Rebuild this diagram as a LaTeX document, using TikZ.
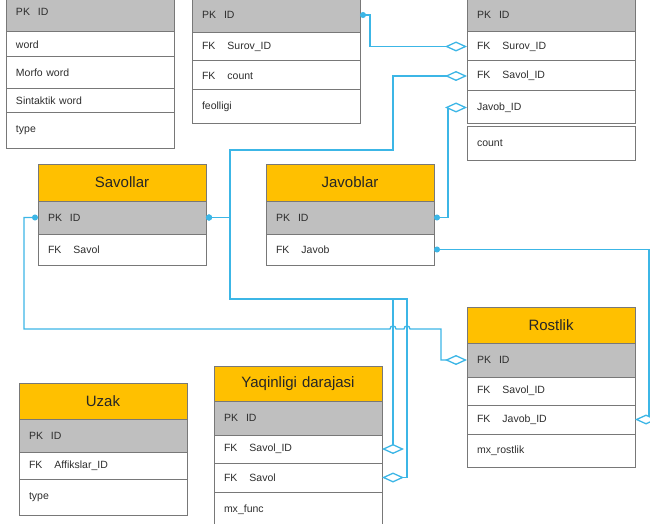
\documentclass[tikz,border=0pt]{standalone}
\usepackage{fontspec}
\setmainfont{Liberation Sans}
\usetikzlibrary{arrows.meta}
\definecolor{hdrorange}{RGB}{255,192,0}
\definecolor{pkgray}{RGB}{191,191,191}
\definecolor{edgegray}{RGB}{120,120,120}
\definecolor{linkblue}{RGB}{60,182,230}
\definecolor{txtgray}{RGB}{45,45,45}

\begin{document}
\begin{tikzpicture}[x=1pt, y=-1pt,
  tbl/.style={draw=edgegray, line width=1pt, anchor=north west, outer sep=0pt,
    inner xsep=10pt, inner ysep=0pt, text width=148pt, align=left, text=txtgray,
    font=\fontsize{10.5}{12}\selectfont},
  hdr/.style={tbl, fill=hdrorange, align=center, text=black!85,
    font=\fontsize{15}{18}\selectfont},
  pk/.style={tbl, fill=pkgray},
  link/.style={draw=linkblue, line width=1.3pt,
    {Circle[length=6pt]}-{Diamond[open,fill=white,length=22pt,width=10pt]}}]
  \useasboundingbox (0,0) rectangle (650,524);
  \clip (0,0) rectangle (650,524);

  \node[pk, minimum height=40pt] (sozid) at (6,-8) {PK\hspace{8pt}ID};
  \node[tbl, minimum height=25pt] (sozword) at (sozid.south west) {word};
  \node[tbl, minimum height=32pt] (sozmorfo) at (sozword.south west) {Morfo word};
  \node[tbl, minimum height=24pt] (sozsint) at (sozmorfo.south west) {Sintaktik word};
  \node[tbl, minimum height=35pt] (soztype) at (sozsint.south west) {type};

  \node[pk, minimum height=36pt] (feolid) at (192,-3) {PK\hspace{8pt}ID};
  \node[tbl, minimum height=28pt] (feolsurov) at (feolid.south west) {FK\hspace{12pt}Surov\_ID};
  \node[tbl, minimum height=29pt] (feolcount) at (feolsurov.south west) {FK\hspace{12pt}count};
  \node[tbl, minimum height=34pt] (feolf) at (feolcount.south west) {feolligi};

  \node[pk, minimum height=35pt] (sjid) at (467,-3) {PK\hspace{8pt}ID};
  \node[tbl, minimum height=29pt] (sjsurov) at (sjid.south west) {FK\hspace{12pt}Surov\_ID};
  \node[tbl, minimum height=30pt] (sjsavol) at (sjsurov.south west) {FK\hspace{12pt}Savol\_ID};
  \node[tbl, minimum height=33pt] (sjjavob) at (sjsavol.south west) {Javob\_ID};
  \node[tbl, minimum height=33pt] (sjcount) at (467,127) {count};

  \node[hdr, minimum height=37pt] (sav) at (38,164) {Savollar};
  \node[pk, minimum height=33pt] (savid) at (sav.south west) {PK\hspace{8pt}ID};
  \node[tbl, minimum height=31pt] (savfk) at (savid.south west) {FK\hspace{12pt}Savol};

  \node[hdr, minimum height=37pt] (jav) at (266,164) {Javoblar};
  \node[pk, minimum height=33pt] (javid) at (jav.south west) {PK\hspace{8pt}ID};
  \node[tbl, minimum height=31pt] (javfk) at (javid.south west) {FK\hspace{12pt}Javob};

  \node[hdr, minimum height=36pt] (ros) at (467,307) {Rostlik};
  \node[pk, minimum height=34pt] (rosid) at (ros.south west) {PK\hspace{8pt}ID};
  \node[tbl, minimum height=28pt] (rossavol) at (rosid.south west) {FK\hspace{12pt}Savol\_ID};
  \node[tbl, minimum height=29pt] (rosjavob) at (rossavol.south west) {FK\hspace{12pt}Javob\_ID};
  \node[tbl, minimum height=33pt] (rosmx) at (rosjavob.south west) {mx\_rostlik};

  \node[hdr, minimum height=36pt] (uzak) at (19,383) {Uzak};
  \node[pk, minimum height=33pt] (uzakid) at (uzak.south west) {PK\hspace{8pt}ID};
  \node[tbl, minimum height=27pt] (uzakaff) at (uzakid.south west) {FK\hspace{12pt}Affikslar\_ID};
  \node[tbl, minimum height=36pt] (uzaktype) at (uzakaff.south west) {type};

  \node[hdr, minimum height=35pt] (yaq) at (214,366) {Yaqinligi darajasi};
  \node[pk, minimum height=34pt] (yaqid) at (yaq.south west) {PK\hspace{8pt}ID};
  \node[tbl, minimum height=28pt] (yaqsavolid) at (yaqid.south west) {FK\hspace{12pt}Savol\_ID};
  \node[tbl, minimum height=29pt] (yaqsavol) at (yaqsavolid.south west) {FK\hspace{12pt}Savol};
  \node[tbl, minimum height=35pt] (yaqmx) at (yaqsavol.south west) {mx\_func};

  \draw[link] (feolid.east) -- ++(10,0) |- (sjsurov.west);
  \draw[link] (savid.east) -- ++(24,0) |- (393,150) |- (sjsavol.west);
  \draw[link] (savid.east) -- ++(24,0) |- (393,299) |- (yaqsavolid.east);
  \draw[link] (savid.east) -- ++(24,0) |- (407,299) |- (yaqsavol.east);
  \draw[link] (savid.west) -- ++(-14,0) |- (390,329)
    .. controls (390,325) and (396,325) .. (396,329) -- (404,329)
    .. controls (404,325) and (410,325) .. (410,329) -- (441,329) |- (rosid.west);
  \draw[link] (javid.east) -- ++(14,0) |- (sjjavob.west);
  \draw[link] (javfk.east) -- ++(215,0) |- (rosjavob.east);
\end{tikzpicture}
\end{document}
